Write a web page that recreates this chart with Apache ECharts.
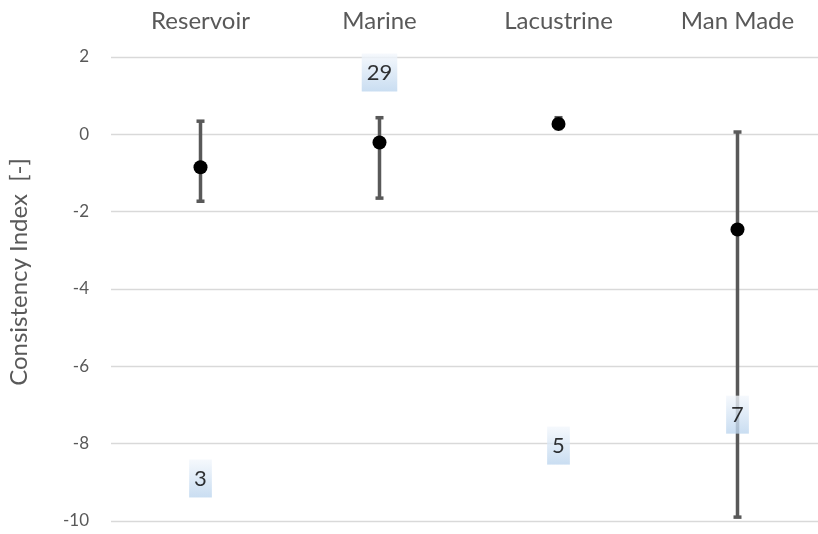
<!DOCTYPE html>
<html>
<head>
<meta charset="utf-8">
<script src="https://cdn.jsdelivr.net/npm/echarts@6/dist/echarts.min.js"></script>
<style>
  html, body { margin: 0; padding: 0; background: #ffffff; }
  #chart { width: 818px; height: 534px; }
</style>
</head>
<body>
<div id="chart"></div>
<script>
// Water body types
const categories = ['Reservoir', 'Marine', 'Lacustrine', 'Man Made'];
// Mean consistency index per type
const meanValues = [-0.85, -0.21, 0.27, -2.46];
// Error bar limits
const upperValues = [0.34, 0.43, 0.43, 0.06];
const lowerValues = [-1.73, -1.65, 0.15, -9.9];
// Sample counts and where their tags sit on the value axis
const countLabels = ['3', '29', '5', '7'];
const countPositions = [-8.9, 1.6, -8.05, -7.25];
// Value axis ticks
const yMin = -10, yMax = 2, yStep = 2;

const font = 'Lato, "Open Sans", sans-serif';
const grey = '#595959';

const chart = echarts.init(document.getElementById('chart'));

const errorData = categories.map((c, i) => [i, lowerValues[i], upperValues[i]]);

chart.setOption({
  animation: false,
  // plot area runs past the right edge of the canvas
  grid: { left: 111, width: 716, top: 57, bottom: 13, containLabel: false, outerBoundsMode: 'none' },
  xAxis: {
    type: 'category',
    data: categories,
    position: 'top',
    axisLine: { show: false },
    axisTick: { show: false },
    axisLabel: { color: grey, fontSize: 24, fontFamily: font, margin: 24 },
    splitLine: { show: false }
  },
  yAxis: {
    type: 'value',
    min: yMin,
    max: yMax,
    interval: yStep,
    name: 'Consistency Index  [-]',
    nameLocation: 'middle',
    nameGap: 80,
    nameTextStyle: { color: grey, fontSize: 24, fontFamily: font, padding: [0, 0, 0, 34] },
    axisLine: { show: false },
    axisTick: { show: false },
    axisLabel: { color: grey, fontSize: 17, fontFamily: font, margin: 22 },
    splitLine: { lineStyle: { color: '#d9d9d9', width: 1.3 } }
  },
  series: [
    {
      type: 'custom',
      data: errorData,
      z: 2,
      renderItem: function (params, api) {
        const x = api.value(0);
        const hi = api.coord([x, api.value(2)]);
        const lo = api.coord([x, api.value(1)]);
        const cap = 4;
        const style = { stroke: grey, lineWidth: 3.5, fill: null };
        return {
          type: 'group',
          children: [
            { type: 'line', shape: { x1: hi[0], y1: hi[1], x2: lo[0], y2: lo[1] }, style: style },
            { type: 'line', shape: { x1: hi[0] - cap, y1: hi[1], x2: hi[0] + cap, y2: hi[1] }, style: style },
            { type: 'line', shape: { x1: lo[0] - cap, y1: lo[1], x2: lo[0] + cap, y2: lo[1] }, style: style }
          ]
        };
      }
    },
    {
      type: 'scatter',
      data: meanValues,
      symbol: 'circle',
      symbolSize: 14,
      itemStyle: { color: '#000000', opacity: 1 },
      z: 3
    },
    {
      type: 'scatter',
      data: countPositions.map((v, i) => ({ value: v, name: countLabels[i] })),
      symbolSize: 0,
      z: 4,
      label: {
        show: true,
        position: 'inside',
        formatter: p => p.name,
        color: '#000000',
        fontSize: 22,
        fontFamily: font,
        padding: [8, 5, 8, 5],
        backgroundColor: new echarts.graphic.LinearGradient(0, 0, 0, 1, [
          { offset: 0, color: '#f3f7fc' },
          { offset: 1, color: '#bcd5ee' }
        ])
      }
    }
  ]
});
</script>
</body>
</html>
